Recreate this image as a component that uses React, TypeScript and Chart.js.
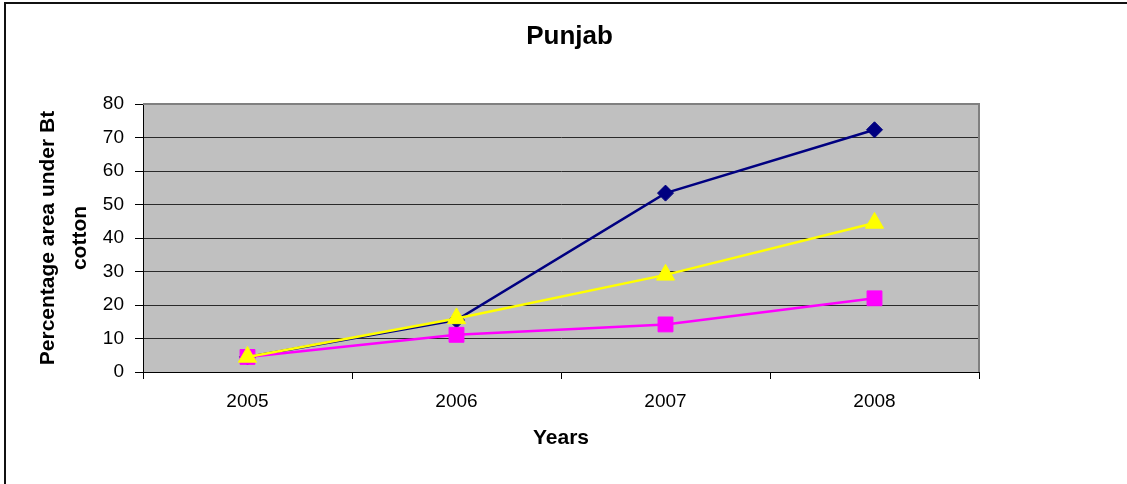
import React, { useEffect, useRef } from "react";
import { Chart, registerables } from "chart.js";

Chart.register(...registerables);

const categories = ["2005", "2006", "2007", "2008"];
const series1 = [4.5, 15.5, 53.4, 72.3]; // navy diamonds
const series2 = [4.5, 11.1, 14.2, 22.0]; // magenta squares
const series3 = [4.5, 16.0, 29.0, 44.5]; // yellow triangles
const yTicks = { min: 0, max: 80, step: 10 };

const W = 1127;
const H = 484;
const PAD_LEFT = 12;

const plotPlugin = {
  id: "plotArea",
  beforeDraw(chart: any) {
    const { ctx, chartArea: a } = chart;
    ctx.save();
    ctx.fillStyle = "#C0C0C0";
    ctx.fillRect(a.left, a.top, a.right - a.left, a.bottom - a.top);
    ctx.restore();
  },
  beforeDatasetsDraw(chart: any) {
    const { ctx, chartArea: a } = chart;
    ctx.save();
    ctx.strokeStyle = "#808080";
    ctx.lineWidth = 2;
    ctx.beginPath();
    ctx.moveTo(a.left, a.top);
    ctx.lineTo(a.right, a.top);
    ctx.lineTo(a.right, a.bottom);
    ctx.stroke();
    ctx.restore();
  },
};

export default function App() {
  const ref = useRef<HTMLCanvasElement | null>(null);

  useEffect(() => {
    if (!ref.current) return;
    Chart.defaults.color = "#000";
    Chart.defaults.font.family = "'Liberation Sans', Arial, sans-serif";
    const chart = new Chart(ref.current, {
      type: "line",
      data: {
        labels: categories,
        datasets: [
          {
            label: "Series1",
            data: series1,
            borderColor: "#000080",
            backgroundColor: "#000080",
            borderWidth: 2.5,
            pointStyle: "rectRot",
            pointRadius: 8,
            pointBorderWidth: 1,
            order: 2,
          },
          {
            label: "Series2",
            data: series2,
            borderColor: "#FF00FF",
            backgroundColor: "#FF00FF",
            borderWidth: 2.5,
            pointStyle: "rect",
            pointRadius: 10.5,
            pointBorderWidth: 1,
            order: 1,
          },
          {
            label: "Series3",
            data: series3,
            borderColor: "#FFFF00",
            backgroundColor: "#FFFF00",
            borderWidth: 2.5,
            pointStyle: "triangle",
            pointRadius: 10.5,
            pointBorderWidth: 1,
            order: 0,
          },
        ],
      },
      options: {
        responsive: false,
        animation: false,
        layout: { padding: { left: PAD_LEFT, right: 0, top: 0, bottom: 0 } },
        plugins: {
          legend: { display: false },
          tooltip: { enabled: false },
          title: {
            display: true,
            text: "Punjab",
            color: "#000",
            font: { size: 26, weight: "bold", lineHeight: 1.2 },
            padding: { top: 21.4, bottom: 51.4 },
          },
        },
        scales: {
          x: {
            type: "category",
            offset: true,
            grid: {
              offset: true,
              drawOnChartArea: false,
              drawTicks: true,
              tickLength: 7,
              tickColor: "#000",
              tickWidth: 1,
            },
            border: { display: true, color: "#000", width: 1 },
            ticks: { color: "#000", font: { size: 19 }, padding: 11, maxRotation: 0 },
            title: {
              display: true,
              text: "Years",
              color: "#000",
              font: { size: 21, weight: "bold", lineHeight: 1.2 },
              padding: { top: 0, bottom: 33.4 },
            },
            afterFit(scale: any) {
              scale.height = H - 372;
            },
          },
          y: {
            min: yTicks.min,
            max: yTicks.max,
            grid: {
              color: "#2a2a2a",
              lineWidth: 1,
              drawTicks: true,
              tickLength: 8,
              tickColor: "#000",
            },
            border: { display: true, color: "#000", width: 1 },
            ticks: { stepSize: yTicks.step, color: "#000", font: { size: 19 }, padding: 11 },
            title: {
              display: true,
              text: ["Percentage area under Bt", "cotton"],
              color: "#000",
              font: { size: 21, weight: "bold", lineHeight: "32px" },
              padding: { top: 32 - PAD_LEFT, bottom: 0 },
            },
            afterFit(scale: any) {
              scale.width = 143 - PAD_LEFT;
            },
          },
          yRight: {
            position: "right",
            display: true,
            min: yTicks.min,
            max: yTicks.max,
            grid: { display: false, drawTicks: false },
            border: { display: false },
            ticks: { display: false },
            afterFit(scale: any) {
              scale.width = W - 979;
            },
          },
        },
      },
      plugins: [plotPlugin],
    } as any);
    return () => chart.destroy();
  }, []);

  return (
    <div
      style={{
        position: "fixed",
        left: 0,
        top: 0,
        width: W,
        height: H,
        overflow: "hidden",
        background: "#fff",
      }}
    >
      <div
        style={{
          position: "absolute",
          left: 4,
          top: 2,
          width: 2000,
          height: 1000,
          borderLeft: "2px solid #111",
          borderTop: "2px solid #111",
        }}
      />
      <canvas
        ref={ref}
        width={W}
        height={H}
        style={{ position: "absolute", left: 0, top: 0, width: W, height: H }}
      />
    </div>
  );
}
